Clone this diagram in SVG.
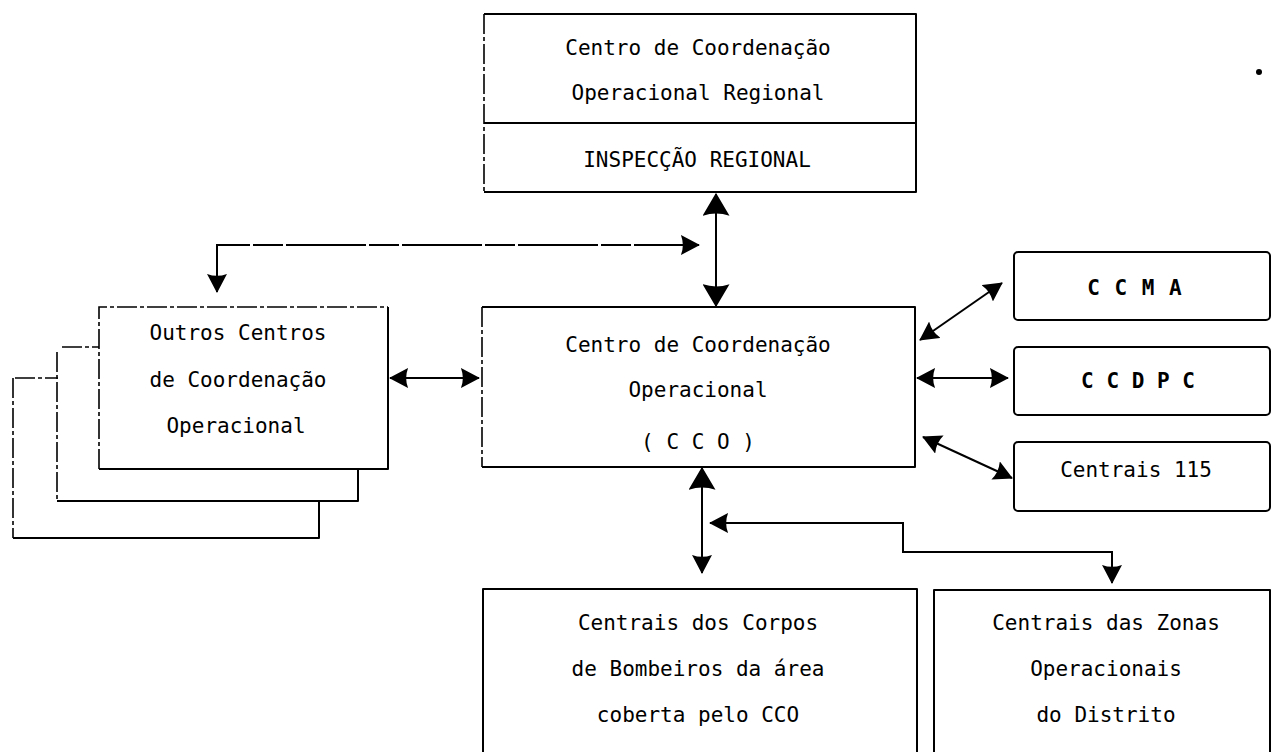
<svg xmlns="http://www.w3.org/2000/svg" width="1283" height="752" viewBox="0 0 1283 752">
<style>
.box{fill:none;stroke:#000;stroke-width:2;stroke-linejoin:round}
.dash{fill:none;stroke:#000;stroke-width:1.6;stroke-dasharray:20 3 4 3}
.conn{fill:none;stroke:#000;stroke-width:2}
.cdash{fill:none;stroke:#000;stroke-width:2;stroke-dasharray:80 3 30 3}
text{font-family:"DejaVu Sans Mono","Liberation Mono",monospace;font-size:21px;fill:#000;text-anchor:middle}
</style>
<defs>
<marker id="ah" viewBox="0 0 20 20" refX="19" refY="10" markerWidth="19" markerHeight="20" markerUnits="userSpaceOnUse" orient="auto-start-reverse" preserveAspectRatio="none">
<path d="M0,0 L20,10 L0,20 Q4,10 0,0Z" fill="#000"/>
</marker>
<marker id="ahL" viewBox="0 0 20 20" refX="19" refY="10" markerWidth="23" markerHeight="27" markerUnits="userSpaceOnUse" orient="auto-start-reverse" preserveAspectRatio="none">
<path d="M0,0 L20,10 L0,20 Q4,10 0,0Z" fill="#000"/>
</marker>
</defs>

<g id="regional">
<path class="box" d="M484,14 L916,14 L916,192 L484,192"/>
<line class="dash" x1="484" y1="14" x2="484" y2="192"/>
<line class="box" x1="484" y1="123" x2="916" y2="123"/>
<text x="698" y="55">Centro de Coordenação</text>
<text x="698" y="100">Operacional Regional</text>
<text x="697" y="167">INSPECÇÃO REGIONAL</text>
</g>

<g id="cco">
<path class="box" d="M482,307 L915,307 L915,467 L482,467"/>
<line class="dash" x1="482" y1="307" x2="482" y2="467"/>
<text x="698" y="352">Centro de Coordenação</text>
<text x="698" y="397">Operacional</text>
<text x="698" y="449">( C C O )</text>
</g>

<g id="outros">
<path class="box" d="M13,538 L319,538 L319,501"/>
<path class="dash" d="M15,378 L58,378 M13,378 L13,538"/>
<path class="box" d="M57,501 L358,501 L358,469"/>
<path class="dash" d="M62,347 L99,347 M57,352 L57,501"/>
<path class="box" d="M388,307 L388,469 L99,469"/>
<path class="dash" d="M99,469 L99,307 L388,307"/>
<text x="238" y="340">Outros Centros</text>
<text x="238" y="387">de Coordenação</text>
<text x="236" y="433">Operacional</text>
</g>

<g id="ccma">
<rect class="box" x="1014" y="252" width="256" height="68" rx="4"/>
<text x="1135" y="295" font-weight="bold" letter-spacing="1">C C M A</text>
</g>
<g id="ccdpc">
<rect class="box" x="1014" y="347" width="256" height="68" rx="4"/>
<text x="1138" y="388" font-weight="bold">C C D P C</text>
</g>
<g id="centrais115">
<rect class="box" x="1014" y="442" width="256" height="69" rx="4"/>
<text x="1136" y="477">Centrais 115</text>
</g>

<g id="corpos">
<path class="box" d="M483,760 L483,589 L917,589 L917,760"/>
<text x="698" y="630">Centrais dos Corpos</text>
<text x="698" y="676">de Bombeiros da área</text>
<text x="698" y="722">coberta pelo CCO</text>
</g>

<g id="zonas">
<path class="box" d="M934,760 L934,590 L1270,590 L1270,760"/>
<text x="1106" y="630">Centrais das Zonas</text>
<text x="1106" y="676">Operacionais</text>
<text x="1106" y="722">do Distrito</text>
</g>

<g id="connectors">
<path class="conn" d="M716,194 L716,306" marker-start="url(#ahL)" marker-end="url(#ahL)"/>
<path class="cdash" d="M217,292 L217,245 L699,245" marker-start="url(#ah)" marker-end="url(#ah)"/>
<path class="conn" d="M390,378 L479,378" marker-start="url(#ah)" marker-end="url(#ah)"/>
<path class="conn" d="M920,340 L1002,283" marker-start="url(#ah)" marker-end="url(#ah)"/>
<path class="conn" d="M917,378 L1008,378" marker-start="url(#ah)" marker-end="url(#ah)"/>
<path class="conn" d="M923,437 L1012,478" marker-start="url(#ah)" marker-end="url(#ah)"/>
<path class="conn" d="M702,468 L702,573" marker-start="url(#ahL)" marker-end="url(#ah)"/>
<path class="conn" d="M710,523 L903,523 L903,552 L1112,552 L1112,583" marker-start="url(#ah)" marker-end="url(#ah)"/>
</g>
<circle cx="1259" cy="72" r="3" fill="#000"/>
</svg>
